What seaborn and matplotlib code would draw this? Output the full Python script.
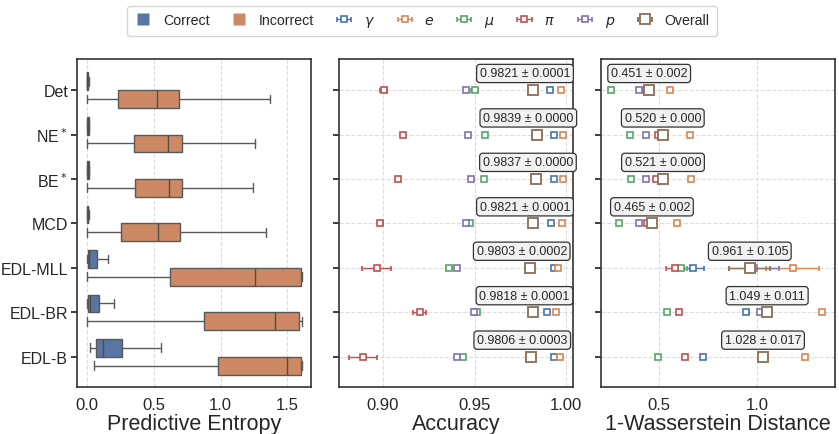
import numpy as np
import pandas as pd
import matplotlib.pyplot as plt
import seaborn as sns
from matplotlib.lines import Line2D

methods = ["Det", "NE$^*$", "BE$^*$", "MCD", "EDL-MLL", "EDL-BR", "EDL-B"]

# predictive entropy box stats per method: whislo, q1, median, q3, whishi
ent_correct = [
    [0.0, 0.0, 0.002, 0.008, 0.012],
    [0.0, 0.0, 0.003, 0.010, 0.016],
    [0.0, 0.0, 0.003, 0.010, 0.016],
    [0.0, 0.0, 0.003, 0.009, 0.014],
    [0.0, 0.003, 0.012, 0.070, 0.153],
    [0.0, 0.006, 0.020, 0.085, 0.198],
    [0.020, 0.068, 0.115, 0.260, 0.551],
]
ent_incorrect = [
    [0.0, 0.230, 0.520, 0.690, 1.370],
    [0.0, 0.353, 0.604, 0.712, 1.256],
    [0.0, 0.358, 0.611, 0.712, 1.240],
    [0.0, 0.253, 0.531, 0.692, 1.343],
    [0.0, 0.617, 1.256, 1.604, 1.609],
    [0.0, 0.875, 1.406, 1.590, 1.609],
    [0.048, 0.980, 1.500, 1.604, 1.609],
]

class_names = ["$\\gamma$", "$e$", "$\\mu$", "$\\pi$", "$p$"]

# accuracy per class (mean, std over runs)
acc_gamma = [0.9910, 0.9932, 0.9932, 0.9918, 0.9935, 0.9893, 0.9936]
acc_e = [0.9973, 0.9981, 0.9981, 0.9975, 0.9954, 0.9943, 0.9965]
acc_mu = [0.9500, 0.9558, 0.9550, 0.9478, 0.9360, 0.9515, 0.9438]
acc_pi = [0.9005, 0.9111, 0.9080, 0.8986, 0.8966, 0.9200, 0.8891]
acc_p = [0.9456, 0.9466, 0.9480, 0.9455, 0.9402, 0.9496, 0.9404]
acc_overall = [0.9821, 0.9839, 0.9837, 0.9821, 0.9803, 0.9818, 0.9806]

acc_gamma_sd = [0.0003, 0.0, 0.0, 0.0003, 0.0005, 0.0003, 0.0005]
acc_e_sd = [0.0003, 0.0, 0.0, 0.0003, 0.0005, 0.0003, 0.0005]
acc_mu_sd = [0.0018, 0.0, 0.0, 0.0010, 0.0015, 0.0008, 0.0008]
acc_pi_sd = [0.0020, 0.0, 0.0, 0.0015, 0.0078, 0.0035, 0.0075]
acc_p_sd = [0.0005, 0.0, 0.0, 0.0005, 0.0010, 0.0008, 0.0005]
acc_overall_sd = [0.0001, 0.0000, 0.0000, 0.0001, 0.0002, 0.0001, 0.0003]

# 1-Wasserstein distance per class
w1_gamma = [0.455, 0.515, 0.515, 0.465, 0.674, 0.944, 0.725]
w1_e = [0.556, 0.659, 0.664, 0.590, 1.178, 1.325, 1.242]
w1_mu = [0.260, 0.353, 0.358, 0.297, 0.610, 0.539, 0.495]
w1_pi = [0.433, 0.496, 0.488, 0.438, 0.581, 0.603, 0.635]
w1_p = [0.399, 0.434, 0.434, 0.400, 0.981, 1.012, 1.029]
w1_overall = [0.451, 0.520, 0.521, 0.465, 0.961, 1.049, 1.028]

w1_gamma_sd = [0.002, 0.0, 0.0, 0.002, 0.055, 0.012, 0.005]
w1_e_sd = [0.002, 0.0, 0.0, 0.002, 0.135, 0.005, 0.005]
w1_mu_sd = [0.002, 0.0, 0.0, 0.002, 0.035, 0.008, 0.004]
w1_pi_sd = [0.002, 0.0, 0.0, 0.002, 0.045, 0.008, 0.008]
w1_p_sd = [0.002, 0.0, 0.0, 0.002, 0.127, 0.010, 0.012]
w1_overall_sd = [0.002, 0.000, 0.000, 0.002, 0.105, 0.011, 0.017]

sns.set_theme(style="ticks")
plt.rcParams["font.family"] = ["Liberation Sans", "DejaVu Sans"]
plt.rcParams["axes.edgecolor"] = ".2"
plt.rcParams["axes.linewidth"] = 1.2

pal = sns.color_palette("deep")
box_colors = [sns.desaturate(pal[0], 0.75), sns.desaturate(pal[1], 0.75)]

fig, axes = plt.subplots(1, 3, figsize=(8.39, 4.35), dpi=100, sharey=True)
fig.subplots_adjust(left=0.092, right=0.995, bottom=0.108, top=0.862, wspace=0.117)

ypos = np.arange(len(methods))

# --- predictive entropy boxes
ax = axes[0]
for k, (stats_list, off) in enumerate([(ent_correct, -0.2), (ent_incorrect, 0.2)]):
    stats = []
    for s in stats_list:
        stats.append(dict(whislo=s[0], q1=s[1], med=s[2], q3=s[3], whishi=s[4], fliers=[]))
    ax.bxp(stats, positions=ypos + off, widths=0.4, vert=False, patch_artist=True,
           showfliers=False, capwidths=0.2, manage_ticks=False,
           boxprops=dict(facecolor=box_colors[k], edgecolor="0.35", linewidth=1.0),
           medianprops=dict(color="0.3", linewidth=1.0),
           whiskerprops=dict(color="0.35", linewidth=1.0),
           capprops=dict(color="0.35", linewidth=1.0))
ax.set_xlim(-0.075, 1.68)
ax.set_xticks([0.0, 0.5, 1.0, 1.5])
ax.set_xticklabels(["0.0", "0.5", "1.0", "1.5"])
ax.set_xlabel("Predictive Entropy", fontsize=15.5, labelpad=1)
ax.grid(True, axis="x", ls="--", color="#dddddd", lw=0.8)


def draw_points(ax, series, sds, overall, overall_sd):
    handles = []
    for j, (vals, sd) in enumerate(zip(series, sds)):
        h = ax.errorbar(vals, ypos, xerr=sd, fmt="s", ms=3.8, mfc="white", mec=pal[j],
                        mew=1.2, color=pal[j], ecolor=pal[j], elinewidth=1.0, capsize=1.8,
                        label=class_names[j], zorder=3)
        handles.append(h)
    h = ax.errorbar(overall, ypos, xerr=overall_sd, fmt="s", ms=6.5, mfc="white", mec=pal[5],
                    mew=1.4, color=pal[5], ecolor=pal[5], elinewidth=1.0, capsize=1.8,
                    label="Overall", zorder=4)
    handles.append(h)
    ax.grid(True, ls="--", color="#dddddd", lw=0.8)
    return handles


# --- accuracy
ax = axes[1]
handles = draw_points(ax, [acc_gamma, acc_e, acc_mu, acc_pi, acc_p],
                      [acc_gamma_sd, acc_e_sd, acc_mu_sd, acc_pi_sd, acc_p_sd],
                      acc_overall, acc_overall_sd)
for i, (m, s) in enumerate(zip(acc_overall, acc_overall_sd)):
    ax.annotate(f"{m:.4f} ± {s:.4f}", (m, i), xytext=(-6, 12), textcoords="offset points",
                ha="center", va="center", fontsize=9, color=".15", zorder=5,
                bbox=dict(boxstyle="round,pad=0.25", fc="#f2f2f2", ec=".2", lw=0.9))
ax.set_xlim(0.876, 1.0038)
ax.set_xticks([0.90, 0.95, 1.00])
ax.set_xticklabels(["0.90", "0.95", "1.00"])
ax.set_xlabel("Accuracy", fontsize=15.5, labelpad=1)

# --- 1-Wasserstein
ax = axes[2]
draw_points(ax, [w1_gamma, w1_e, w1_mu, w1_pi, w1_p],
            [w1_gamma_sd, w1_e_sd, w1_mu_sd, w1_pi_sd, w1_p_sd],
            w1_overall, w1_overall_sd)
for i, (m, s) in enumerate(zip(w1_overall, w1_overall_sd)):
    ax.annotate(f"{m:.3f} ± {s:.3f}", (m, i), xytext=(0, 12), textcoords="offset points",
                ha="center", va="center", fontsize=9, color=".15", zorder=5,
                bbox=dict(boxstyle="round,pad=0.25", fc="#f2f2f2", ec=".2", lw=0.9))
ax.set_xlim(0.2045, 1.392)
ax.set_xticks([0.5, 1.0])
ax.set_xticklabels(["0.5", "1.0"])
ax.set_xlabel("1-Wasserstein Distance", fontsize=15.5, labelpad=1)

axes[0].set_ylim(6.68, -0.7)
axes[0].set_yticks(ypos)
axes[0].set_yticklabels(methods)
for ax in axes:
    ax.tick_params(axis="x", length=0, labelsize=12, pad=7)
    ax.tick_params(axis="y", length=4, labelsize=11.5, pad=2.5)
    for sp in ax.spines.values():
        sp.set_visible(True)
for ax in axes[1:]:
    ax.tick_params(axis="y", labelleft=False)

patch_handles = [
    Line2D([], [], marker="s", ls="none", ms=9, mfc=box_colors[0], mec="none", label="Correct"),
    Line2D([], [], marker="s", ls="none", ms=9, mfc=box_colors[1], mec="none", label="Incorrect"),
]
fig.legend(handles=patch_handles + handles, loc="upper center", bbox_to_anchor=(0.503, 1.0),
           ncol=8, fontsize=10.2, frameon=True, edgecolor="#cccccc", fancybox=True,
           handlelength=1.2, columnspacing=1.5, handletextpad=0.8, borderpad=0.5)

fig.savefig("out.png", dpi=100)
